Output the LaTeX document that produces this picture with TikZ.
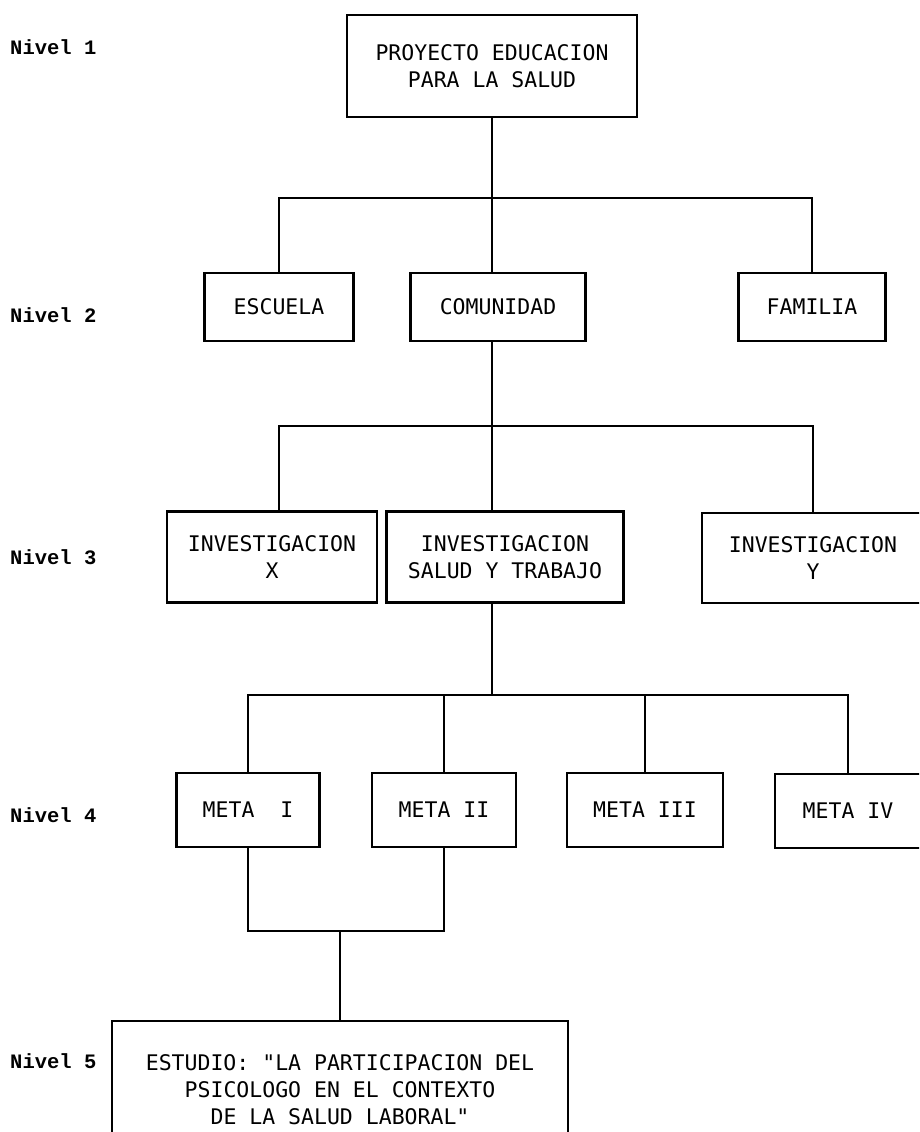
\documentclass[tikz,border=0pt]{standalone}
\usepackage{fontspec}
\newfontfamily\boxfont{DejaVu Sans Mono}
\newfontfamily\lvlfont{Liberation Mono}
\begin{document}
\begin{tikzpicture}[x=1pt,y=-1pt,
  box/.style={draw, line width=2.2pt, inner sep=0pt, align=center,
    font=\boxfont\fontsize{21.5}{27}\selectfont},
  lvl/.style={anchor=west, inner sep=0pt,
    font=\lvlfont\bfseries\fontsize{20.5}{24}\selectfont},
  wire/.style={line width=2.2pt}]
\useasboundingbox (0,0) rectangle (919,1132);
\fill[white] (0,0) rectangle (919,1132);
\clip (0,0) rectangle (919,1132);

% level labels
\node[lvl] (L1) at (10,47) {Nivel 1};
\node[lvl] (L2) at (10,315) {Nivel 2};
\node[lvl] (L3) at (10,557) {Nivel 3};
\node[lvl] (L4) at (10,815) {Nivel 4};
\node[lvl] (L5) at (10,1061) {Nivel 5};

% level 1
\node[box, minimum width=290pt, minimum height=102pt] (T) at (492,66)
  {PROYECTO EDUCACION\\PARA LA SALUD};
% level 2
\node[box, minimum width=149pt, minimum height=68pt] (ESC) at (279,307) {ESCUELA};
\node[box, minimum width=175pt, minimum height=68pt] (COM) at (498,307) {COMUNIDAD};
\node[box, minimum width=147pt, minimum height=68pt] (FAM) at (812,307) {FAMILIA};
% level 3
\node[box, minimum width=210pt, minimum height=91pt] (IX) at (272,557) {INVESTIGACION\\X};
\node[box, minimum width=237pt, minimum height=91pt] (IS) at (505,557) {INVESTIGACION\\SALUD Y TRABAJO};
\node[box, minimum width=222pt, minimum height=90pt] (IY) at (813,558) {INVESTIGACION\\Y};
% level 4
\node[box, minimum width=143pt, minimum height=74pt] (M1) at (248,810) {META~~I};
\node[box, minimum width=144pt, minimum height=74pt] (M2) at (444,810) {META II};
\node[box, minimum width=156pt, minimum height=74pt] (M3) at (645,810) {META III};
\node[box, minimum width=146pt, minimum height=74pt] (M4) at (848,811) {META IV};
% level 5
\node[box, minimum width=456pt, minimum height=138pt] (E) at (340,1090)
  {ESTUDIO: "LA PARTICIPACION DEL\\PSICOLOGO EN EL CONTEXTO\\DE LA SALUD LABORAL"};

% connectors
\coordinate (b1) at (492,198);
\coordinate (b2) at (492,426);
\coordinate (b3) at (492,695);
\coordinate (b4) at (340,931);
\draw[wire] (T.south) -- (b1);
\draw[wire] (ESC.north) |- (b1) -| (FAM.north);
\draw[wire] (b1) -- (b1 |- COM.north);
\draw[wire] (b1 |- COM.south) -- (b2);
\draw[wire] (ESC.north |- IX.north) |- (b2) -| (IY.north);
\draw[wire] (b2) -- (b2 |- IS.north);
\draw[wire] (b2 |- IS.south) -- (b3);
\draw[wire] (M1.north) |- (b3) -| (M4.north);
\draw[wire] (M2.north) -- (M2.north |- b3);
\draw[wire] (M3.north) -- (M3.north |- b3);
\draw[wire] (M1.south) |- (b4) -| (M2.south);
\draw[wire] (b4) -- (E.north);
\end{tikzpicture}
\end{document}
